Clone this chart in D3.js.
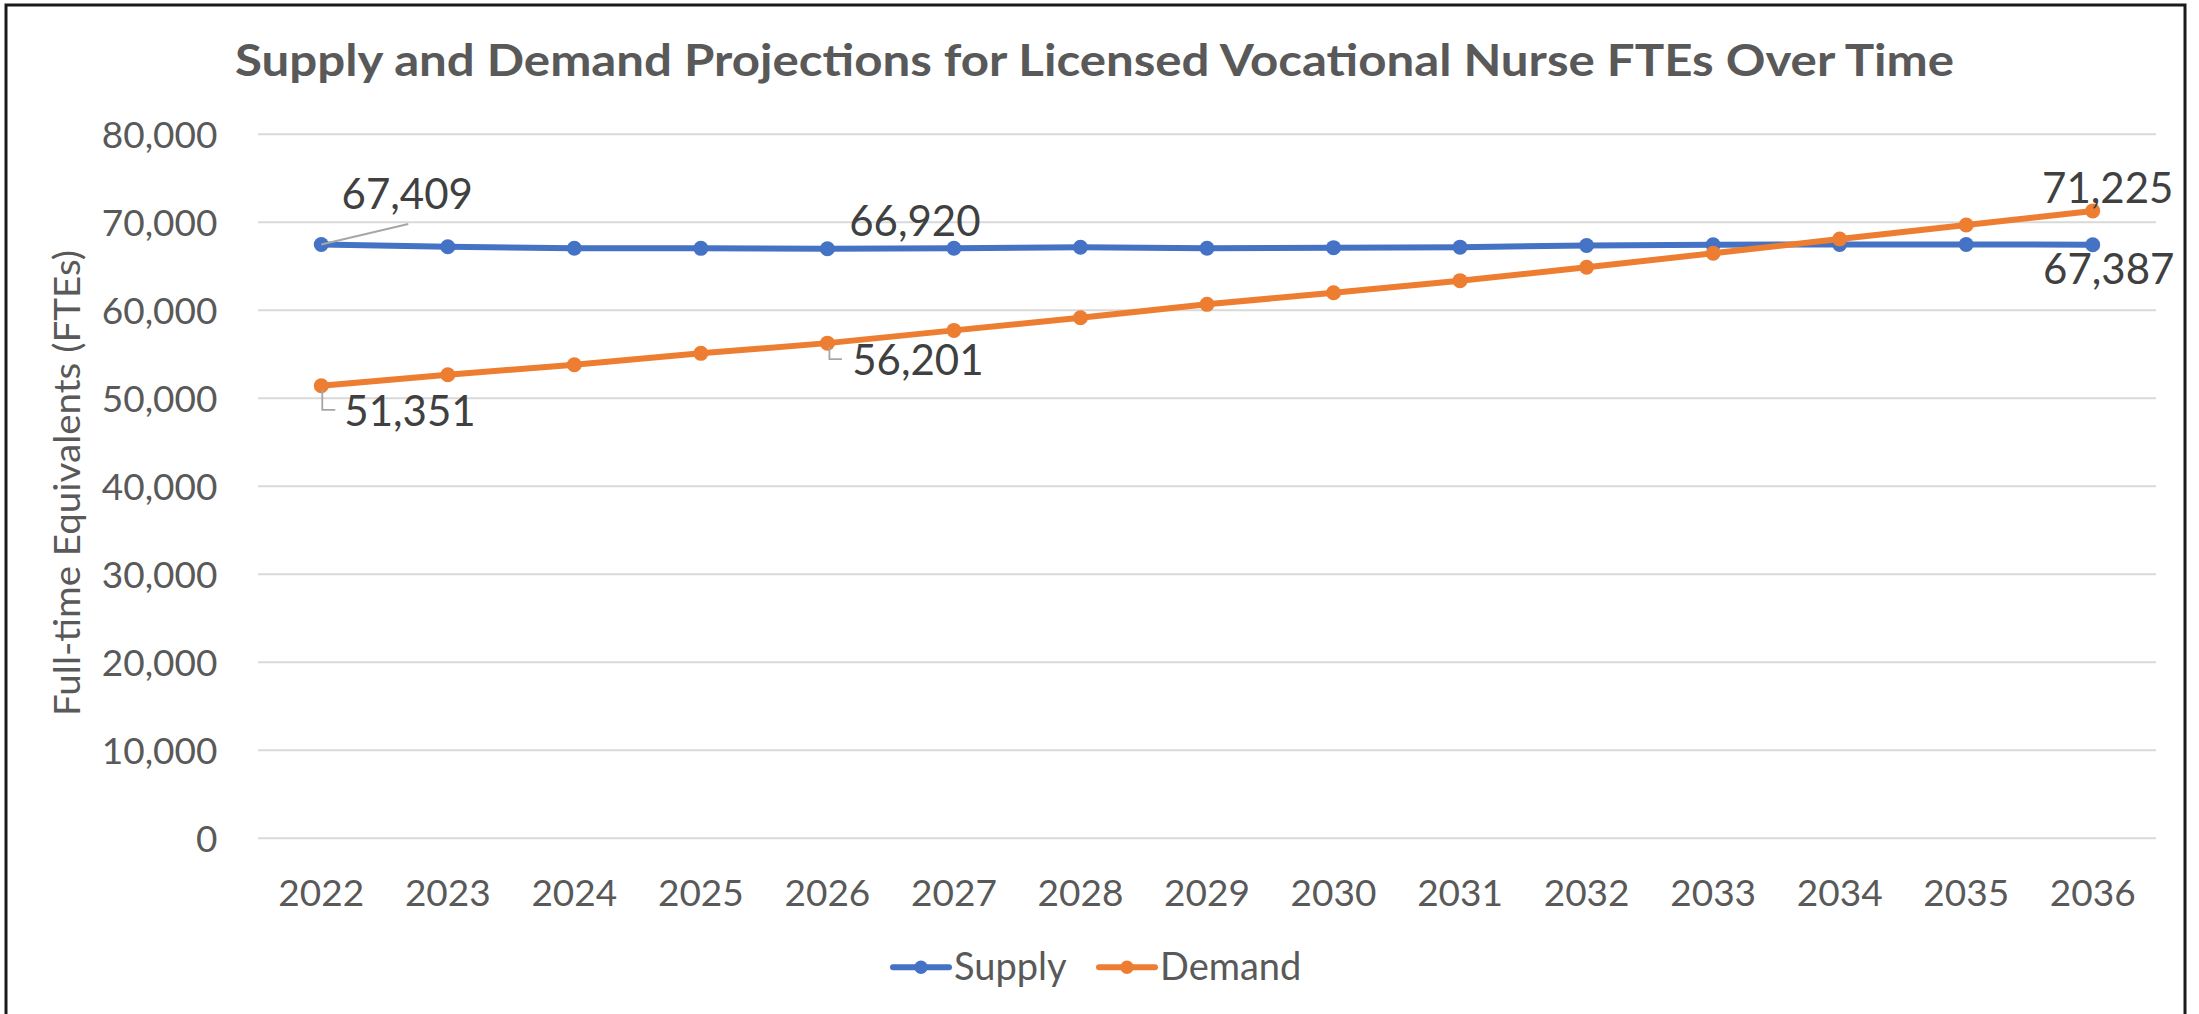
<!DOCTYPE html>
<html><head><meta charset="utf-8">
<script src="https://cdn.jsdelivr.net/npm/d3@7"></script>
<style>body{margin:0;background:#fff;} svg{display:block;}</style>
</head><body>
<svg id="c" width="2199" height="1014"></svg>
<script>
const years = [2022,2023,2024,2025,2026,2027,2028,2029,2030,2031,2032,2033,2034,2035,2036];
const supply = [67409,67160,66980,66970,66920,66980,67100,66990,67050,67110,67290,67370,67420,67410,67387];
const demand = [51351,52610,53750,55040,56201,57650,59090,60610,61930,63300,64820,66410,68030,69625,71225];
const yTicks = [0,10000,20000,30000,40000,50000,60000,70000,80000];
const seriesNames = ["Supply","Demand"];
const seriesColors = ["#4472C4","#ED7D31"];
const titleText = "Supply and Demand Projections for Licensed Vocational Nurse FTEs Over Time";
const yTitleText = "Full-time Equivalents (FTEs)";
const labelYears = [2022, 2026, 2036];

const FONT = "Lato, 'Open Sans', sans-serif";
const svg = d3.select("#c");
const x = d3.scaleBand().domain(years).range([258,2156]).padding(0);
const cx = d => x(d) + x.bandwidth()/2;
const y = d3.scaleLinear().domain([0,80000]).range([837.7,133.7]);

// border
svg.append("rect").attr("x",6).attr("y",5).attr("width",2179).attr("height",1040)
  .attr("fill","#fff").attr("stroke","#1a1a1a").attr("stroke-width",3);

// title
svg.append("text").attr("x",1094.5).attr("y",76).attr("text-anchor","middle")
  .attr("font-family",FONT).attr("font-weight","bold").attr("font-size",43)
  .attr("fill","#595959").attr("textLength",1719).attr("lengthAdjust","spacingAndGlyphs")
  .text(titleText);

// y axis with gridlines
const ya = svg.append("g").attr("transform","translate(258,0)")
  .call(d3.axisLeft(y).tickValues(yTicks).tickSize(-1898).tickPadding(40.5).tickFormat(d3.format(",")));
ya.select(".domain").remove();
ya.selectAll("line").attr("stroke","#D9D9D9").attr("stroke-width",2);
ya.selectAll("text").attr("font-family",FONT).attr("font-size",37).attr("fill","#595959").attr("dy","0.36em");

// x axis
const xa = svg.append("g").attr("transform","translate(0,837.7)")
  .call(d3.axisBottom(x).tickSize(0).tickPadding(42));
xa.select(".domain").remove();
xa.selectAll("text").attr("font-family",FONT).attr("font-size",37).attr("fill","#595959");

// y title
svg.append("text").attr("transform","translate(80,483) rotate(-90)").attr("text-anchor","middle")
  .attr("font-family",FONT).attr("font-size",37).attr("fill","#595959")
  .attr("textLength",466).attr("lengthAdjust","spacingAndGlyphs").text(yTitleText);

// series
const seriesData = [supply, demand];
const line = d3.line().x((d,i)=>cx(years[i])).y(d=>y(d));
seriesData.forEach((vals, si) => {
  const g = svg.append("g");
  g.append("path").datum(vals).attr("d",line).attr("fill","none")
    .attr("stroke",seriesColors[si]).attr("stroke-width",6).attr("stroke-linejoin","round").attr("stroke-linecap","round");
  g.selectAll("circle").data(vals).join("circle")
    .attr("cx",(d,i)=>cx(years[i])).attr("cy",d=>y(d)).attr("r",7.5).attr("fill",seriesColors[si]);
});

// data labels
const fmt = d3.format(",");
const leader = svg.append("g").attr("stroke","#A6A6A6").attr("stroke-width",1.8).attr("fill","none");
const lbl = svg.append("g").attr("font-family",FONT).attr("font-size",42).attr("fill","#404040").attr("text-anchor","middle");
function addLabel(year, val, dx, dy){
  const px = cx(year), py = y(val);
  lbl.append("text").attr("x",px+dx).attr("y",py+dy).text(fmt(val));
  return [px,py];
}
// supply labels
{
  const i0 = years.indexOf(labelYears[0]);
  const [px,py] = addLabel(labelYears[0], supply[i0], 86, -36);
  leader.append("path").attr("d",`M${px},${py}L${px+87},${py-20.5}`);
  const i1 = years.indexOf(labelYears[1]);
  addLabel(labelYears[1], supply[i1], 87.5, -13);
  const i2 = years.indexOf(labelYears[2]);
  addLabel(labelYears[2], supply[i2], 16, 39.5);
}
// demand labels
{
  const i0 = years.indexOf(labelYears[0]);
  const [px,py] = addLabel(labelYears[0], demand[i0], 88.7, 40);
  leader.append("path").attr("d",`M${px+1},${py+4}L${px+1},${py+24}L${px+14},${py+24}`);
  const i1 = years.indexOf(labelYears[1]);
  const [qx,qy] = addLabel(labelYears[1], demand[i1], 90.5, 32);
  leader.append("path").attr("d",`M${qx+2},${qy+4}L${qx+2},${qy+16}L${qx+14.5},${qy+16}`);
  const i2 = years.indexOf(labelYears[2]);
  addLabel(labelYears[2], demand[i2], 15, -7.6);
}

// legend
const legendX = [893, 1099];
const leg = svg.append("g");
seriesNames.forEach((name, si) => {
  const lx = legendX[si];
  leg.append("line").attr("x1",lx).attr("x2",lx+56).attr("y1",967.3).attr("y2",967.3)
    .attr("stroke",seriesColors[si]).attr("stroke-width",6).attr("stroke-linecap","round");
  leg.append("circle").attr("cx",lx+28).attr("cy",967.3).attr("r",6.7).attr("fill",seriesColors[si]);
  leg.append("text").attr("x",lx+61).attr("y",980).attr("font-family",FONT).attr("font-size",38)
    .attr("fill","#595959").text(name);
});
</script>
</body></html>
